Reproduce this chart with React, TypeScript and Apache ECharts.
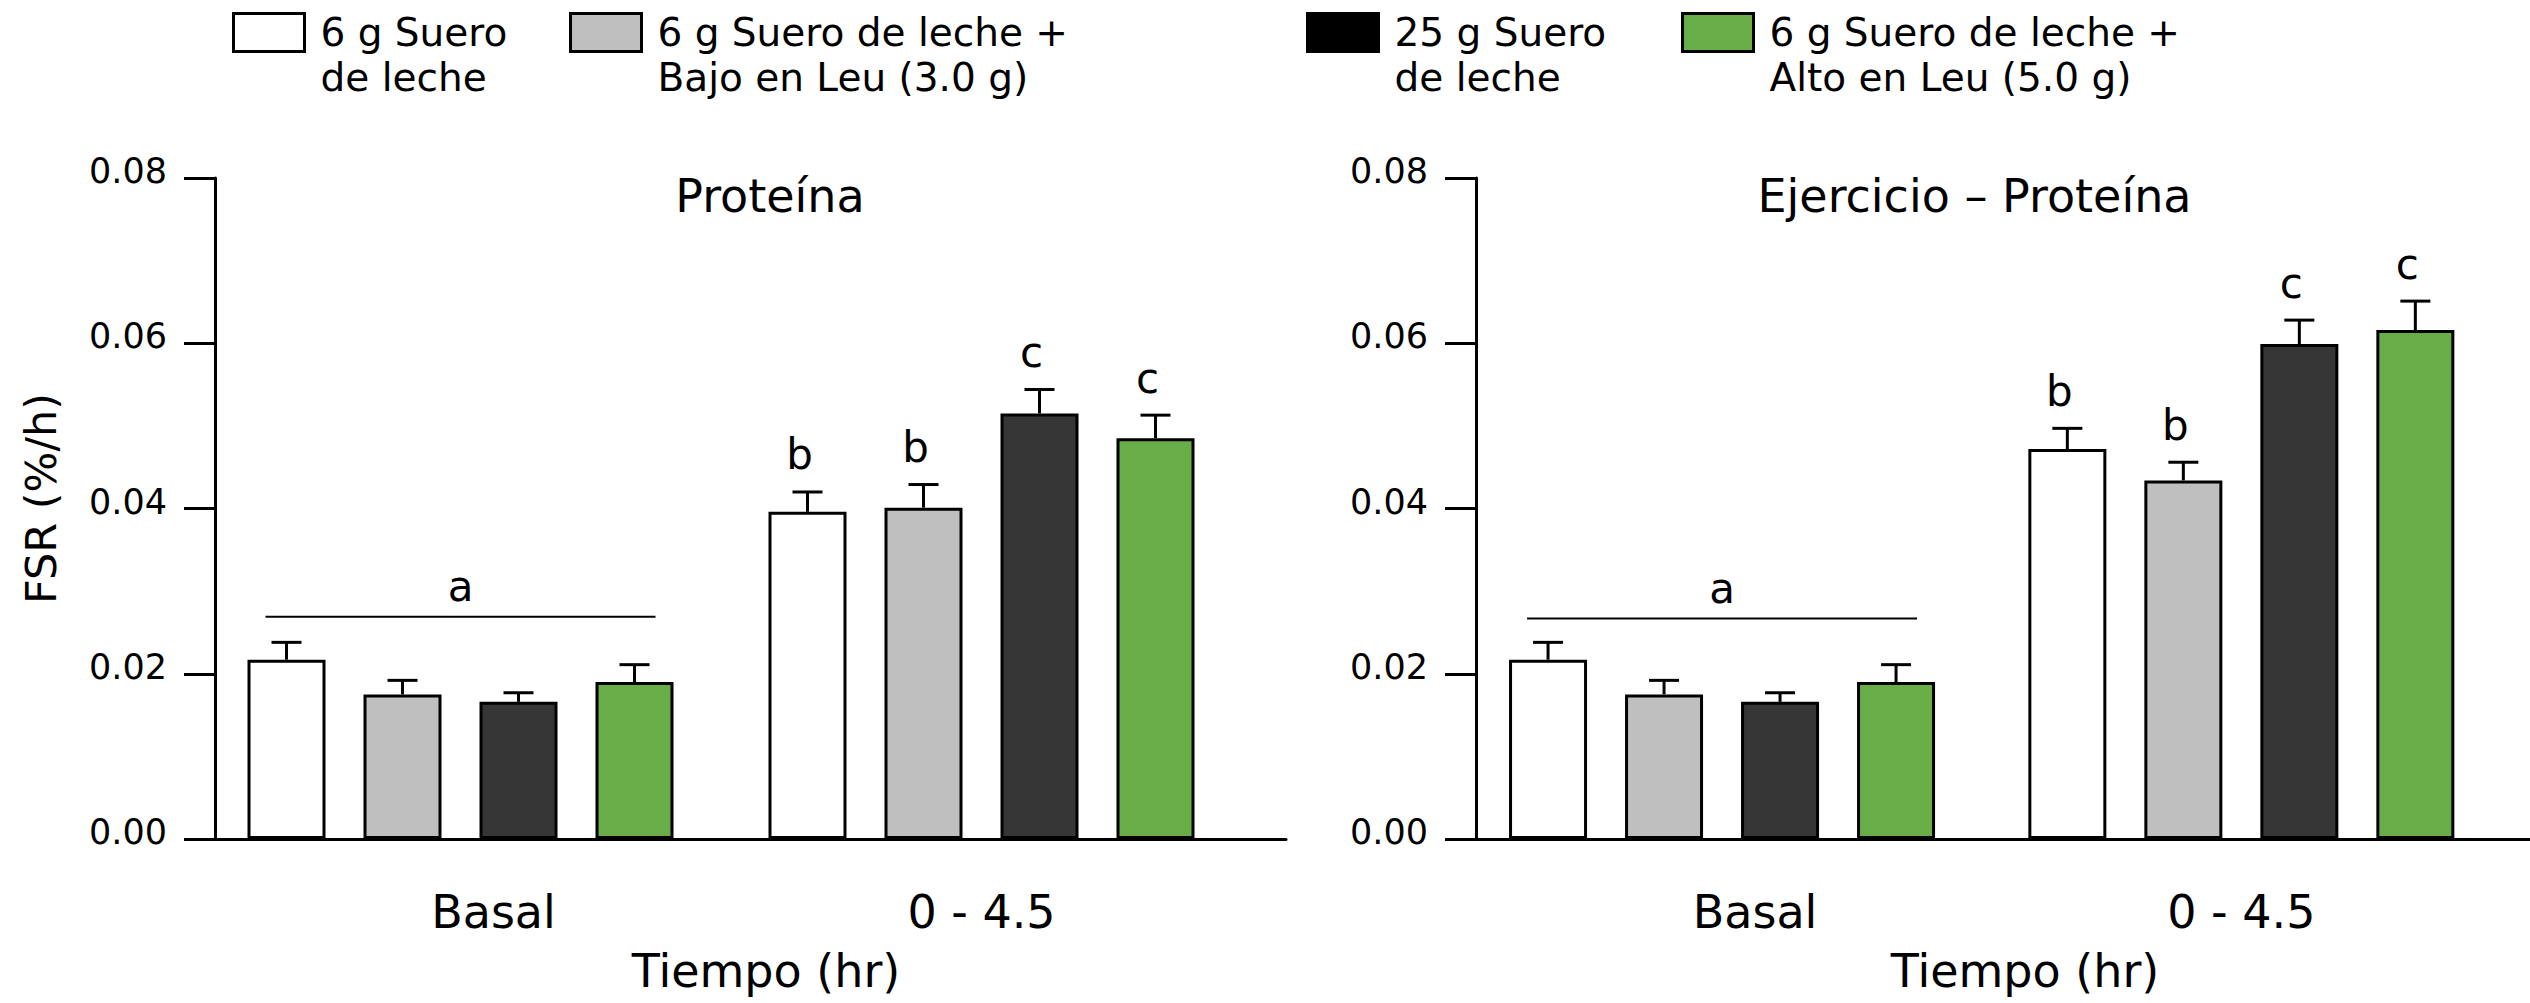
import React, { useEffect, useRef } from 'react';
import * as echarts from 'echarts';

// ---------------- DATA ----------------
const categories = ['Basal', '0 - 4.5'];
const seriesNames = [
  '6 g Suero de leche',
  '6 g Suero de leche + Bajo en Leu (3.0 g)',
  '25 g Suero de leche',
  '6 g Suero de leche + Alto en Leu (5.0 g)',
];
const legendLabels = [
  '6 g Suero\nde leche',
  '6 g Suero de leche +\nBajo en Leu (3.0 g)',
  '25 g Suero\nde leche',
  '6 g Suero de leche +\nAlto en Leu (5.0 g)',
];
const panelTitles = ['Proteína', 'Ejercicio – Proteína'];
const yTickLabels = ['0.00', '0.02', '0.04', '0.06', '0.08'];
const yAxisTitle = 'FSR (%/h)';
const xAxisTitle = 'Tiempo (hr)';

// Panel 1: Proteína (FSR %/h), [Basal, 0 - 4.5]
const protWhey6 = [0.0217, 0.0396];
const protLowLeu = [0.0175, 0.0401];
const protWhey25 = [0.0166, 0.0515];
const protHighLeu = [0.019, 0.0485];
const protWhey6Err = [0.0021, 0.0024];
const protLowLeuErr = [0.0017, 0.0028];
const protWhey25Err = [0.0011, 0.0029];
const protHighLeuErr = [0.0021, 0.0028];
const protLetters = [['', 'b'], ['', 'b'], ['', 'c'], ['', 'c']];
const protBracketValue = 0.0269;

// Panel 2: Ejercicio – Proteína
const exWhey6 = [0.0217, 0.0472];
const exLowLeu = [0.0175, 0.0434];
const exWhey25 = [0.0166, 0.0599];
const exHighLeu = [0.019, 0.0616];
const exWhey6Err = [0.0021, 0.0025];
const exLowLeuErr = [0.0017, 0.0022];
const exWhey25Err = [0.0011, 0.0029];
const exHighLeuErr = [0.0021, 0.0035];
const exLetters = [['', 'b'], ['', 'b'], ['', 'c'], ['', 'c']];
const exBracketValue = 0.0267;
const bracketLetter = 'a';

// ---------------- STYLE / LAYOUT ----------------
const FONT = 'DejaVu Sans';
const barColors = ['#ffffff', '#bfbfbf', '#363636', '#69ad48'];
const legendColors = ['#ffffff', '#bfbfbf', '#000000', '#69ad48'];
const BAR_W = 78;
const BAR_GAP = 38;
const BAR_STEP = BAR_W + BAR_GAP;
const CAP_HALF = 15;
const GRID_TOP = 178;
const GRID_H = 661;
const LEGEND_LH = 45;

const panels = [
  {
    means: [protWhey6, protLowLeu, protWhey25, protHighLeu],
    errs: [protWhey6Err, protLowLeuErr, protWhey25Err, protHighLeuErr],
    letters: protLetters,
    bracket: protBracketValue,
    barLeft: 200,
    barWidth: 1042,
    axisLeft: 215,
    axisWidth: 1071,
    titleX: 770,
    nameShift: 31,
  },
  {
    means: [exWhey6, exLowLeu, exWhey25, exHighLeu],
    errs: [exWhey6Err, exLowLeuErr, exWhey25Err, exHighLeuErr],
    letters: exLetters,
    bracket: exBracketValue,
    barLeft: 1462.4,
    barWidth: 1038.6,
    axisLeft: 1476,
    axisWidth: 1054,
    titleX: 1974.5,
    nameShift: 44,
  },
];

const legendPos = [
  { left: 232 },
  { left: 569 },
  { left: 1306 },
  { left: 1681 },
];

function buildOption() {
  const grid: any[] = [];
  const xAxis: any[] = [];
  const yAxis: any[] = [];
  const series: any[] = [];
  const title: any[] = [];

  panels.forEach((p, pi) => {
    // bar grid
    grid.push({ left: p.barLeft, top: GRID_TOP, width: p.barWidth, height: GRID_H, containLabel: false });
    // axis grid
    grid.push({ left: p.axisLeft, top: GRID_TOP, width: p.axisWidth, height: GRID_H, containLabel: false });

    xAxis.push({
      type: 'category',
      gridIndex: pi * 2,
      data: categories,
      boundaryGap: true,
      axisLine: { show: false },
      axisTick: { show: false },
      splitLine: { show: false },
      axisLabel: {
        show: true,
        margin: 50,
        color: '#000',
        fontFamily: FONT,
        fontSize: 46,
        lineHeight: 46,
        formatter: (v: string) => (v === categories[0] ? '{s|' + v + '}' : '{n|' + v + '}'),
        rich: {
          s: { fontFamily: FONT, fontSize: 46, lineHeight: 46, color: '#000', padding: [0, 0, 0, 66] },
          n: { fontFamily: FONT, fontSize: 46, lineHeight: 46, color: '#000' },
        },
      },
    });
    xAxis.push({
      type: 'value',
      gridIndex: pi * 2 + 1,
      min: 0,
      max: 1,
      axisLine: { show: true, onZero: false, lineStyle: { color: '#000', width: 3 } },
      axisTick: { show: false },
      axisLabel: { show: false },
      splitLine: { show: false },
      name: xAxisTitle,
      nameLocation: 'middle',
      nameGap: 109,
      nameTextStyle: {
        fontFamily: FONT,
        fontSize: 46,
        lineHeight: 46,
        color: '#000',
        padding: [0, 0, 0, p.nameShift],
      },
    });

    yAxis.push({
      type: 'value',
      gridIndex: pi * 2,
      min: 0,
      max: 0.08,
      interval: 0.02,
      show: false,
      splitLine: { show: false },
    });
    yAxis.push({
      type: 'value',
      gridIndex: pi * 2 + 1,
      min: 0,
      max: 0.08,
      interval: 0.02,
      axisLine: { show: true, onZero: false, lineStyle: { color: '#000', width: 3 } },
      axisTick: { show: true, inside: false, length: 31, lineStyle: { color: '#000', width: 3 } },
      splitLine: { show: false },
      axisLabel: {
        show: true,
        margin: 48,
        color: '#000',
        fontFamily: FONT,
        fontSize: 35,
        lineHeight: 14,
        verticalAlign: 'bottom',
        formatter: (v: number) => yTickLabels[Math.round(v / 0.02)],
      },
      name: pi === 0 ? yAxisTitle : '',
      nameLocation: 'middle',
      nameGap: 153,
      nameTextStyle: { fontFamily: FONT, fontSize: 43, lineHeight: 43, color: '#000', padding: [0, 0, 0, 20] },
    });

    title.push({
      text: panelTitles[pi],
      left: p.titleX,
      top: 173,
      textAlign: 'center',
      padding: 0,
      textStyle: { fontFamily: FONT, fontSize: 46, lineHeight: 46, fontWeight: 'normal', color: '#000' },
    });

    // bars
    p.means.forEach((m, si) => {
      series.push({
        type: 'bar',
        name: seriesNames[si],
        xAxisIndex: pi * 2,
        yAxisIndex: pi * 2,
        data: m,
        barWidth: BAR_W,
        barGap: (BAR_GAP / BAR_W) * 100 + '%',
        itemStyle: { color: barColors[si], borderColor: '#000', borderWidth: 3 },
        emphasis: { disabled: true },
      });
    });

    // error bars + letters
    const errData: number[][] = [];
    const errLetters: string[] = [];
    p.means.forEach((m, si) => {
      m.forEach((v, ci) => {
        errData.push([ci, v + p.errs[si][ci], si, v]);
        errLetters.push(p.letters[si][ci]);
      });
    });
    series.push({
      type: 'custom',
      name: 'error',
      xAxisIndex: pi * 2,
      yAxisIndex: pi * 2,
      data: errData,
      encode: { x: 0, y: 1 },
      z: 5,
      silent: true,
      renderItem: (params: any, api: any) => {
        const c = api.value(0);
        const hi = api.value(1);
        const s = api.value(2);
        const m = api.value(3);
        const base = api.coord([c, m]);
        const top = api.coord([c, hi]);
        const x = base[0] + (s - 1.5) * BAR_STEP;
        const children: any[] = [
          { type: 'line', shape: { x1: x, y1: base[1], x2: x, y2: top[1] }, style: { stroke: '#000', lineWidth: 3 } },
          { type: 'line', shape: { x1: x - CAP_HALF, y1: top[1], x2: x + CAP_HALF, y2: top[1] }, style: { stroke: '#000', lineWidth: 3 } },
        ];
        const letter = errLetters[params.dataIndex];
        if (letter) {
          children.push({
            type: 'text',
            x: x - 8,
            y: top[1] - 37,
            style: { text: letter, fontFamily: FONT, fontSize: 42, fill: '#000', align: 'center', verticalAlign: 'middle' },
          });
        }
        return { type: 'group', children };
      },
    });

    // significance bracket over basal group
    series.push({
      type: 'custom',
      name: 'bracket',
      xAxisIndex: pi * 2,
      yAxisIndex: pi * 2,
      data: [[0, p.bracket]],
      encode: { x: 0, y: 1 },
      z: 5,
      silent: true,
      renderItem: (params: any, api: any) => {
        const pt = api.coord([api.value(0), api.value(1)]);
        return {
          type: 'group',
          children: [
            { type: 'line', shape: { x1: pt[0] - 195, y1: pt[1], x2: pt[0] + 195, y2: pt[1] }, style: { stroke: '#000', lineWidth: 2 } },
            {
              type: 'text',
              x: pt[0],
              y: pt[1] - 30,
              style: { text: bracketLetter, fontFamily: FONT, fontSize: 42, fill: '#000', align: 'center', verticalAlign: 'middle' },
            },
          ],
        };
      },
    });
  });

  const legend = seriesNames.map((n, i) => ({
    data: [{ name: n, itemStyle: { color: legendColors[i], borderColor: '#000', borderWidth: 3 } }],
    left: legendPos[i].left,
    top: -35,
    padding: 0,
    itemWidth: 71,
    itemHeight: 38,
    icon: 'rect',
    selectedMode: false,
    // leading empty line keeps the first text line level with the box
    formatter: () => '\n' + legendLabels[i],
    textStyle: { fontFamily: FONT, fontSize: 39, lineHeight: LEGEND_LH, color: '#000', padding: [0, 0, 0, 11] },
  }));

  return {
    animation: false,
    backgroundColor: '#ffffff',
    textStyle: { fontFamily: FONT },
    title,
    legend,
    grid,
    xAxis,
    yAxis,
    series,
  };
}

export default function App() {
  const ref = useRef<HTMLDivElement>(null);
  useEffect(() => {
    if (!ref.current) return;
    const chart = echarts.init(ref.current, undefined, { renderer: 'svg' });
    chart.setOption(buildOption() as any);
    return () => chart.dispose();
  }, []);
  return (
    <div
      ref={ref}
      style={{ position: 'fixed', left: 0, top: 0, width: 2530, height: 1003, background: '#fff' }}
    />
  );
}
